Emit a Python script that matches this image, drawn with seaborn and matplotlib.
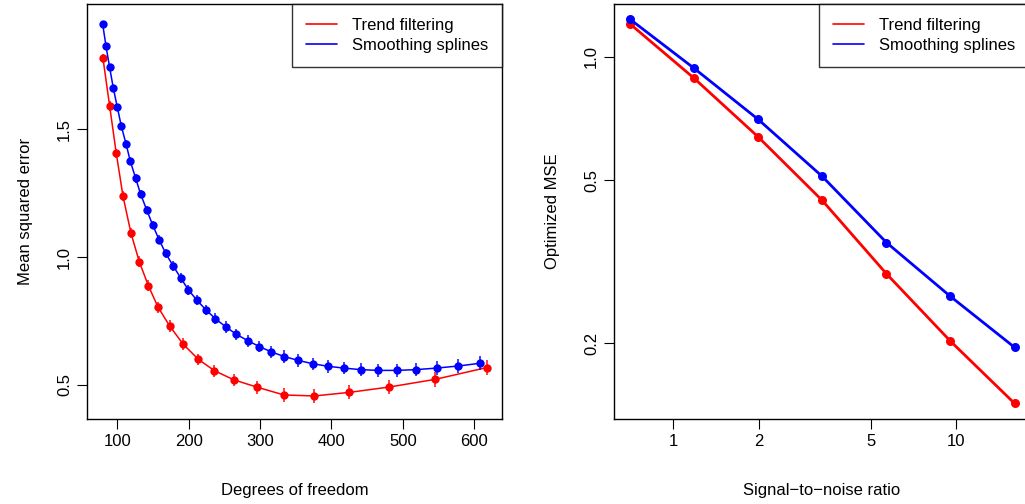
import numpy as np
import pandas as pd
import matplotlib
matplotlib.use("Agg")
import matplotlib.pyplot as plt
from matplotlib.lines import Line2D
import seaborn as sns

# ---- Left panel data: MSE vs degrees of freedom ----
tf_df = [80, 89.3, 98.6, 108, 119.2, 130.8, 143.5, 157.1, 173.5, 192.1, 213.6,
         236, 263.2, 296.3, 333.3, 375.8, 424.8, 480.9, 545.4, 617.3]
tf_mse = [1.776, 1.590, 1.405, 1.238, 1.093, 0.982, 0.888, 0.804, 0.730, 0.660,
          0.600, 0.556, 0.520, 0.491, 0.461, 0.457, 0.471, 0.492, 0.522, 0.568]
tf_se = [0.018, 0.019, 0.019, 0.02, 0.02, 0.021, 0.021, 0.022, 0.022, 0.023,
         0.023, 0.024, 0.024, 0.025, 0.026, 0.027, 0.027, 0.028, 0.028, 0.029]

ss_df = [79.5, 84.2, 89.3, 94.4, 100, 105.6, 112.2, 118.2, 125.8, 132.8, 141.2,
         149.6, 158.5, 167.9, 178.1, 188.9, 199.5, 211.3, 224.4, 237.4, 252,
         266.8, 282.8, 299.1, 315.9, 334.1, 353.3, 373.9, 395, 417.4, 440.7,
         465.5, 491.7, 518.8, 547.2, 577.2, 608.5]
ss_mse = [1.911, 1.824, 1.741, 1.661, 1.586, 1.512, 1.443, 1.375, 1.307, 1.245,
          1.184, 1.125, 1.068, 1.014, 0.966, 0.918, 0.872, 0.832, 0.793, 0.759,
          0.727, 0.698, 0.673, 0.650, 0.629, 0.611, 0.596, 0.583, 0.573, 0.566,
          0.560, 0.557, 0.557, 0.560, 0.566, 0.574, 0.585]
ss_se = [0.012, 0.012, 0.013, 0.013, 0.014, 0.014, 0.015, 0.015, 0.016, 0.016,
         0.017, 0.017, 0.018, 0.018, 0.019, 0.019, 0.020, 0.020, 0.021, 0.021,
         0.022, 0.022, 0.023, 0.023, 0.023, 0.024, 0.024, 0.024, 0.025, 0.025,
         0.025, 0.026, 0.026, 0.026, 0.027, 0.027, 0.027]

# ---- Right panel data: optimized MSE vs SNR ----
snr = [0.703, 1.184, 1.996, 3.36, 5.67, 9.55, 16.1]
tf_opt = [1.202, 0.886, 0.637, 0.446, 0.2953, 0.2022, 0.1425]
ss_opt = [1.234, 0.937, 0.703, 0.5105, 0.352, 0.260, 0.1953]

series_names = ["Trend filtering", "Smoothing splines"]
series_colors = ["#FF0000", "#0000FF"]

x_ticks_left = [100, 200, 300, 400, 500, 600]
y_ticks_left = [0.5, 1.0, 1.5]
x_ticks_right = [1, 2, 5, 10]
y_ticks_right = [0.2, 0.5, 1.0]

sns.set_theme(style="white")
plt.rcParams["font.family"] = ["Liberation Sans", "DejaVu Sans"]
plt.rcParams["text.color"] = "black"
plt.rcParams["axes.labelcolor"] = "black"
plt.rcParams["xtick.color"] = "black"
plt.rcParams["ytick.color"] = "black"

W, H = 1025, 504
fig = plt.figure(figsize=(W / 100, H / 100), dpi=100)
axL = fig.add_axes([87.3 / W, (H - 419) / H, 414.7 / W, 415 / H])
axR = fig.add_axes([614.3 / W, (H - 419) / H, 414.7 / W, 415 / H])

fs = 12

# Left panel
for xs, ys, es, col in [(tf_df, tf_mse, tf_se, series_colors[0]),
                        (ss_df, ss_mse, ss_se, series_colors[1])]:
    d = pd.DataFrame({"x": xs, "y": ys})
    sns.lineplot(data=d, x="x", y="y", ax=axL, color=col, lw=1.1,
                 marker="o", markersize=6, markeredgewidth=0, sort=False)
    axL.vlines(xs, np.array(ys) - np.array(es), np.array(ys) + np.array(es),
               color=col, lw=1.4, alpha=0.75)

axL.set_xlim(58, 638.8)
axL.set_ylim(0.367, 1.989)
axL.set_xticks(x_ticks_left)
axL.set_xticklabels([str(v) for v in x_ticks_left])
axL.set_yticks(y_ticks_left)
axL.set_yticklabels(["0.5", "1.0", "1.5"], rotation=90, va="center")
axL.set_xlabel("Degrees of freedom", fontsize=fs, labelpad=24)
axL.set_ylabel("Mean squared error", fontsize=fs, labelpad=17)

# Right panel
for ys, col in [(tf_opt, series_colors[0]), (ss_opt, series_colors[1])]:
    d = pd.DataFrame({"x": snr, "y": ys})
    sns.lineplot(data=d, x="x", y="y", ax=axR, color=col, lw=2.0,
                 marker="o", markersize=6.5, markeredgewidth=0, sort=False)
axR.set_xscale("log")
axR.set_yscale("log")
axR.set_xlim(0.618, 18.1)
axR.set_ylim(0.1306, 1.345)
axR.set_xticks(x_ticks_right)
axR.set_xticklabels([str(v) for v in x_ticks_right])
axR.set_yticks(y_ticks_right)
axR.set_yticklabels(["0.2", "0.5", "1.0"], rotation=90, va="center")
axR.minorticks_off()
axR.set_xlabel("Signal\u2212to\u2212noise ratio", fontsize=fs, labelpad=24)
axR.set_ylabel("Optimized MSE", fontsize=fs, labelpad=17)

for ax in (axL, axR):
    for sp in ax.spines.values():
        sp.set_visible(True)
        sp.set_color("black")
        sp.set_linewidth(1.0)
    ax.tick_params(axis="both", which="major", direction="out", length=7,
                   width=0.8, color="black", labelcolor="black", labelsize=fs,
                   pad=4, left=True, bottom=True, top=False, right=False)
    ax.grid(False)
    handles = [Line2D([0], [0], color=c, lw=1.2) for c in series_colors]
    leg = ax.legend(handles, series_names, loc="upper right", fontsize=fs,
                    frameon=True, fancybox=False, edgecolor="black",
                    borderaxespad=0, handlelength=1.9, handletextpad=0.85,
                    labelspacing=0.3, borderpad=0.85)
    leg.get_frame().set_linewidth(1.0)
    for t in leg.get_texts():
        t.set_color("black")

fig.savefig("out.png", dpi=100)
